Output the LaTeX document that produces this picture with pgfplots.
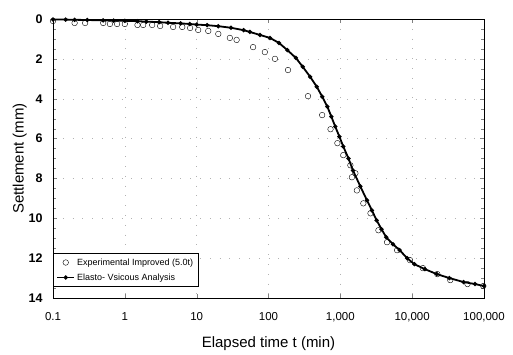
\documentclass[border=0pt]{standalone}
\usepackage{pgfplots}
\pgfplotsset{compat=1.18}
\usepackage{fontspec}
\setmainfont{Liberation Sans}
\begin{document}
\begin{tikzpicture}
\begin{axis}[
  name=ax,
  scale only axis,
  width=431pt, height=279pt,
  xmode=log, log basis x=10,
  xmin=0.1, xmax=100000,
  ymin=0, ymax=14, y dir=reverse,
  xtick={0.1,1,10,100,1000,10000,100000},
  xticklabels={0.1,1,10,100,{1,000},{10,000},{100,000}},
  ytick={0,2,4,6,8,10,12,14},
  yticklabel style={font=\fontsize{12.5}{14}\selectfont\bfseries, xshift=-7pt},
  xticklabel style={font=\fontsize{11.5}{14}\selectfont, yshift=-11pt},
  /pgf/number format/assume math mode=true,
  minor y tick num=3,
  tick align=inside,
  axis line style={line width=0.8pt},
  ymajorgrids, xmajorgrids,
  major grid style={gray!60, dash pattern=on 0.8pt off 9pt},
  xlabel={Elapsed time t (min)},
  ylabel={Settlement (mm)},
  xlabel style={font=\fontsize{15}{18}\selectfont, yshift=-8pt},
  ylabel style={font=\fontsize{15}{18}\selectfont, yshift=-5pt},
  legend style={at={(0,0.04)}, anchor=south west, font=\fontsize{9}{11}\selectfont, draw=black, line width=0.6pt, row sep=3pt, inner xsep=3pt, inner ysep=3pt},
  legend cell align=left,
  clip=false,
]
\addplot[only marks, mark=o, mark size=2.8pt, black, thin] coordinates {
(0.1,0.1) (0.2,0.2) (0.28,0.2) (0.5,0.2) (0.62,0.25) (0.78,0.25) (1.0,0.25)
(1.5,0.3) (1.8,0.3) (2.4,0.3) (3.1,0.35) (4.7,0.4) (6.3,0.4) (8.1,0.45)
(10.5,0.55) (14.5,0.6) (20,0.75) (29,0.95) (36,1.05) (61,1.41) (89,1.66)
(123,2.0) (187,2.56) (355,3.87) (558,4.82) (730,5.53) (910,6.23) (1100,6.83)
(1380,7.34) (1620,7.74) (1450,7.94) (1700,8.6) (2090,9.25) (2630,9.75)
(3390,10.6) (4470,11.2) (6170,11.6) (9330,12.1) (14100,12.5) (22400,12.8)
(33900,13.1) (58900,13.3) (97700,13.4)
};
\addlegendentry{Experimental Improved (5.0t)}
\addplot[black, line width=1.8pt, mark=*, mark size=1.1pt] coordinates {
(0.1,0.02) (0.15,0.03) (0.2,0.04) (0.3,0.05) (0.5,0.07) (0.7,0.08) (1,0.09)
(1.5,0.11) (2,0.13) (3,0.16) (4,0.19) (6,0.22) (8,0.25) (10,0.28) (14,0.31)
(20,0.36) (30,0.44) (45,0.56) (55,0.65) (76,0.8) (105,0.95) (140,1.2)
(183,1.56) (240,1.95) (300,2.4) (380,2.9) (470,3.4) (560,3.9) (660,4.4)
(750,4.9) (850,5.4) (970,5.9) (1100,6.4) (1300,7.0) (1500,7.6) (1900,8.4)
(2350,9.1) (2750,9.6) (3200,10.1) (3750,10.55) (4350,10.95) (5400,11.3)
(6700,11.6) (8500,12.0) (10700,12.3) (15000,12.55) (22000,12.8) (33000,13.0)
(52000,13.2) (75000,13.3) (100000,13.4)
};
\addlegendentry{Elasto- Vsicous Analysis}
\end{axis}
\path (ax.south west) ++(-53pt,-55pt) coordinate (bl);
\path (ax.north east) ++(29pt,19pt) coordinate (tr);
\path[use as bounding box] (bl) rectangle (tr);
\end{tikzpicture}
\end{document}
